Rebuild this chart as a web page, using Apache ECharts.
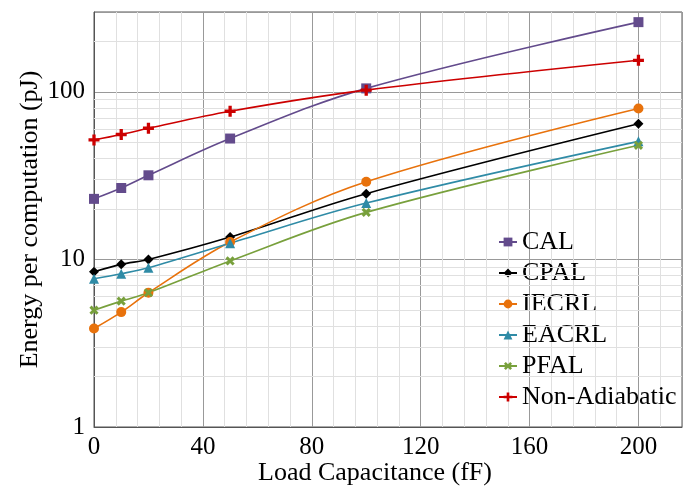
<!DOCTYPE html>
<html><head><meta charset="utf-8">
<script src="https://cdn.jsdelivr.net/npm/echarts@6/dist/echarts.min.js"></script>
<style>html,body{margin:0;padding:0;background:#fff}#c{width:695px;height:488px}</style>
</head><body><div id="c"></div>
<script>
const xValues = [0, 10, 20, 50, 100, 200];
const calValues = [23.0, 26.7, 31.8, 52.7, 105, 261];
const cpalValues = [8.45, 9.35, 10.0, 13.6, 24.7, 64.5];
const iecrlValues = [3.87, 4.85, 6.33, 12.7, 29.1, 79.7];
const eacrlValues = [7.67, 8.22, 8.93, 12.5, 21.7, 50.7];
const pfalValues = [4.98, 5.64, 6.33, 9.8, 19.1, 48.0];
const nonAdiabaticValues = [51.7, 55.7, 60.7, 76.7, 102.5, 154.5];
const seriesNames = ['CAL', 'CPAL', 'IECRL', 'EACRL', 'PFAL', 'Non-Adiabatic'];
const minorYLines = [2,3,4,5,6,7,8,9,20,30,40,50,60,70,80,90,200];

const FONT = 'Liberation Serif';
const plusPath = 'path://M3.5,0H6.5V3.5H10V6.5H6.5V10H3.5V6.5H0V3.5H3.5Z';

function pairs(vals){ return xValues.map((x,i)=>[x, vals[i]]); }
function mk(name, vals, color, symbol, size, rot){
  return {
    name, type:'line', data: pairs(vals), smooth: 0.35,
    symbol, symbolSize: size, symbolRotate: rot || 0,
    lineStyle:{color, width:1.6}, itemStyle:{color}, z: 5
  };
}
const chart = echarts.init(document.getElementById('c'), null, {renderer:'canvas'});
chart.setOption({
  animation:false,
  backgroundColor:'#fff',
  grid:{left:94, right:13, top:12, bottom:61, show:true, borderColor:'#555', borderWidth:1,
        outerBoundsMode:'none', containLabel:false},
  legend:{
    data: seriesNames, orient:'vertical', left:498, top:229, itemGap:5, padding:0,
    itemWidth:18, itemHeight:11,
    textStyle:{fontFamily:FONT, fontSize:26, color:'#000'}
  },
  xAxis:{
    type:'value', min:0, max:216, interval:40,
    name:'Load Capacitance (fF)', nameLocation:'middle', nameGap:33, nameMoveOverlap:false,
    nameTextStyle:{fontFamily:FONT, fontSize:26, color:'#000', padding:[0,26,0,0]},
    axisLine:{lineStyle:{color:'#555'}}, axisTick:{show:false},
    axisLabel:{fontFamily:FONT, fontSize:25, color:'#000', margin:8, showMaxLabel:false},
    splitLine:{show:true, lineStyle:{color:'#999', width:1}},
    minorTick:{show:false, splitNumber:5},
    minorSplitLine:{show:true, lineStyle:{color:'#e0e0e0', width:1}}
  },
  yAxis:{
    type:'log', logBase:10, min:1, max:300,
    name:'Energy per computation (pJ)', nameLocation:'middle', nameGap:51, nameMoveOverlap:false,
    nameTextStyle:{fontFamily:FONT, fontSize:26, color:'#000'},
    axisLine:{show:true, lineStyle:{color:'#555'}}, axisTick:{show:false},
    axisLabel:{fontFamily:FONT, fontSize:25, color:'#000', margin:9, showMaxLabel:false},
    splitLine:{show:true, lineStyle:{color:'#999', width:1}}
  },
  series:[
    {name:'_grid', type:'line', data:[], silent:true, z:1,
      markLine:{silent:true, symbol:['none','none'], label:{show:false},
        lineStyle:{color:'#e0e0e0', width:1, type:'solid'},
        data: minorYLines.map(v=>({yAxis:v}))}},
    mk('CAL', calValues, '#634b8c', 'rect', 10),
    mk('CPAL', cpalValues, '#000000', 'diamond', 10),
    mk('IECRL', iecrlValues, '#e8720c', 'circle', 10),
    mk('EACRL', eacrlValues, '#2f8ba6', 'triangle', 10),
    mk('PFAL', pfalValues, '#78a03c', plusPath, 10, 45),
    mk('Non-Adiabatic', nonAdiabaticValues, '#cc0000', plusPath, 11)
  ]
});
</script></body></html>
